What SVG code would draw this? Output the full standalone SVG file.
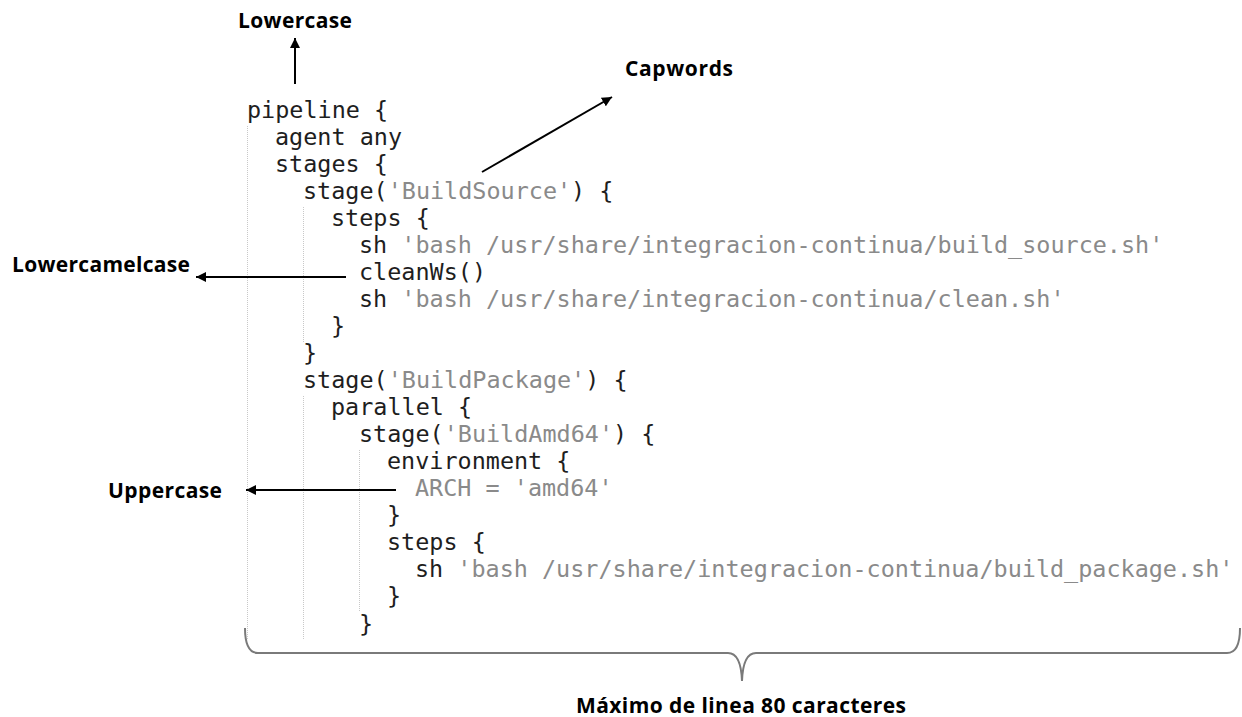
<svg xmlns="http://www.w3.org/2000/svg" width="1242" height="717" viewBox="0 0 1242 717">
<style>
.code{font-family:"DejaVu Sans Mono",monospace;font-size:23.45px;fill:#1e1e1e}
.s{fill:#8a8a8a}
.lbl{font-family:"Open Sans","Liberation Sans",sans-serif;font-weight:700;font-size:21px;fill:#000}
.guide{stroke:#c8c8c8;stroke-width:1;stroke-dasharray:1 1;fill:none}
.arr{stroke:#000;stroke-width:2;fill:none;marker-end:url(#ah)}
</style>
<defs>
<marker id="ah" markerUnits="userSpaceOnUse" markerWidth="12" markerHeight="10" refX="10" refY="5" orient="auto">
<path d="M0,0 L10,5 L0,10 z" fill="#000"/>
</marker>
</defs>
<rect width="1242" height="717" fill="#fff"/>
<g id="guides">
<line class="guide" x1="247.5" y1="126" x2="247.5" y2="639"/>
<line class="guide" x1="303.5" y1="207" x2="303.5" y2="342"/>
<line class="guide" x1="303.5" y1="396" x2="303.5" y2="639"/>
<line class="guide" x1="359.5" y1="450" x2="359.5" y2="612"/>
</g>
<g id="code" class="code">
<text x="247" y="118">pipeline {</text>
<text x="275" y="145">agent any</text>
<text x="275" y="172">stages {</text>
<text x="303" y="199">stage(<tspan class="s">'BuildSource'</tspan>) {</text>
<text x="331" y="226">steps {</text>
<text x="359" y="253">sh <tspan class="s">'bash /usr/share/integracion-continua/build_source.sh'</tspan></text>
<text x="359" y="280">cleanWs()</text>
<text x="359" y="307">sh <tspan class="s">'bash /usr/share/integracion-continua/clean.sh'</tspan></text>
<text x="331" y="334">}</text>
<text x="303" y="361">}</text>
<text x="303" y="388">stage(<tspan class="s">'BuildPackage'</tspan>) {</text>
<text x="331" y="415">parallel {</text>
<text x="359" y="442">stage(<tspan class="s">'BuildAmd64'</tspan>) {</text>
<text x="387" y="469">environment {</text>
<text x="415" y="496" class="s">ARCH = 'amd64'</text>
<text x="387" y="523">}</text>
<text x="387" y="550">steps {</text>
<text x="415" y="577">sh <tspan class="s">'bash /usr/share/integracion-continua/build_package.sh'</tspan></text>
<text x="387" y="604">}</text>
<text x="359" y="632">}</text>
</g>
<g id="n-lowercase"><text class="lbl" x="238" y="28" textLength="114">Lowercase</text></g>
<g id="n-capwords"><text class="lbl" x="625" y="76" textLength="108">Capwords</text></g>
<g id="n-lowercamelcase"><text class="lbl" x="12" y="272" textLength="178">Lowercamelcase</text></g>
<g id="n-uppercase"><text class="lbl" x="108" y="498" textLength="114">Uppercase</text></g>
<g id="n-maximo"><text class="lbl" x="741" y="713" text-anchor="middle" font-size="20" textLength="330">Máximo de linea 80 caracteres</text></g>
<g id="connectors">
<line class="arr" x1="295" y1="84" x2="295" y2="38"/>
<line class="arr" x1="482" y1="172" x2="612" y2="97"/>
<line class="arr" x1="346" y1="277" x2="196" y2="277"/>
<line class="arr" x1="396" y1="490" x2="246" y2="490"/>
<path d="M245,628 Q245,653 258,653 L728,653 Q741,653 742,681 Q743,653 756,653 L1227,653 Q1240,653 1240,628" fill="none" stroke="#7a7a7a" stroke-width="2"/>
</g>
</svg>
